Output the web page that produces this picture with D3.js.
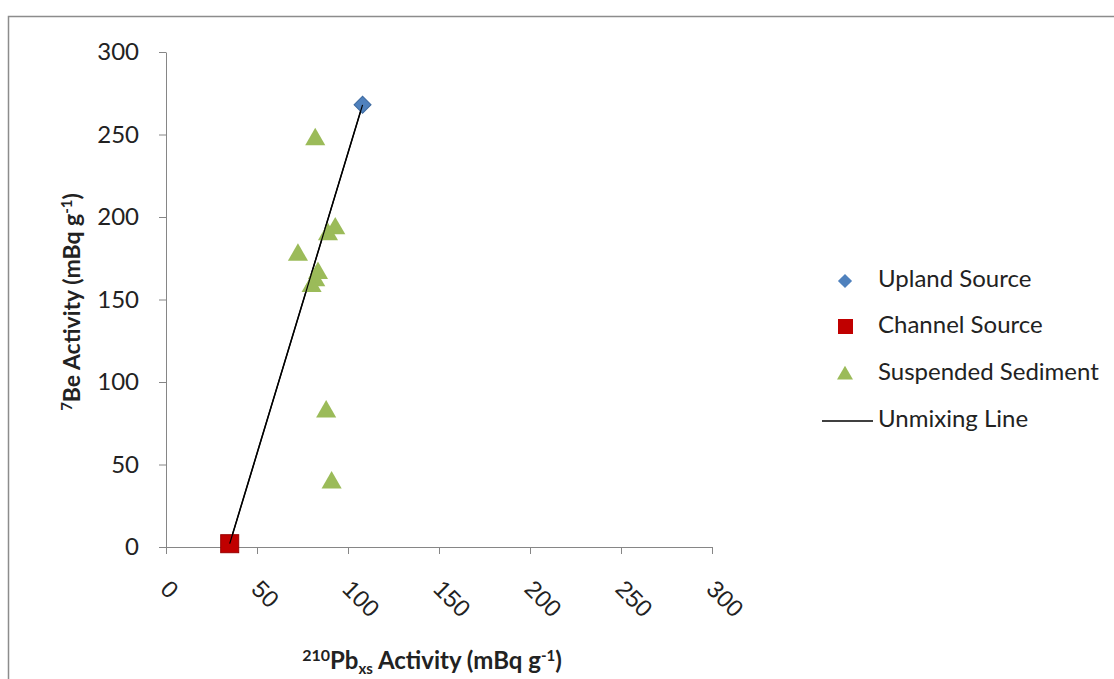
<!DOCTYPE html>
<html><head><meta charset="utf-8">
<script src="https://cdn.jsdelivr.net/npm/d3@7"></script>
<style>
html,body{margin:0;padding:0;background:#fff;}
svg{display:block;font-family:Lato,"Open Sans",sans-serif;}
</style></head>
<body>
<svg id="chart" width="1114" height="679"></svg>
<script>
// ---- data ----
const uplandX = [108];
const uplandY = [268];
const channelX = [35];
const channelY = [2];
const sedimentX = [82, 93, 89, 72.5, 83.5, 82, 80, 88, 91];
const sedimentY = [247, 193, 189.5, 177, 166, 161.5, 158, 82, 39];
const lineX = [35, 108];
const lineY = [2, 268];
const xTicks = [0, 50, 100, 150, 200, 250, 300];
const yTicks = [0, 50, 100, 150, 200, 250, 300];
const legendLabels = ["Upland Source", "Channel Source", "Suspended Sediment", "Unmixing Line"];

const svg = d3.select("#chart");
const W = 1114, H = 679;

// chart area border
svg.append("path").attr("d", `M8.5,${H} V16.5 H${W}`)
  .attr("fill","none").attr("stroke","#8c8c8c").attr("stroke-width",1.5);

const x = d3.scaleLinear().domain([0,300]).range([166,712]);
const y = d3.scaleLinear().domain([0,300]).range([547,52]);

// y axis
const yAx = svg.append("g").attr("transform","translate(166,0)")
  .call(d3.axisLeft(y).tickValues(yTicks).tickSize(7).tickSizeOuter(0).tickPadding(20));
yAx.select(".domain").attr("stroke","#868686");
yAx.selectAll(".tick line").attr("stroke","#868686");
yAx.selectAll("text").attr("font-size",24).attr("fill","#222").attr("font-family","Lato");

// x axis
const xAx = svg.append("g").attr("transform","translate(0,547)")
  .call(d3.axisBottom(x).tickValues(xTicks).tickSize(7).tickSizeOuter(0));
xAx.select(".domain").attr("stroke","#868686");
xAx.selectAll(".tick line").attr("stroke","#868686");
xAx.selectAll("text")
  .attr("font-size",24).attr("fill","#222")
  .attr("text-anchor","start").attr("dy",null).attr("y",null)
  .attr("transform","translate(-3,39) rotate(45)")
  .attr("dominant-baseline","middle");

// unmixing line
const lineData = lineX.map((v,i)=>({x:v,y:lineY[i]}));
svg.append("path").datum(lineData)
  .attr("d", d3.line().x(d=>x(d.x)).y(d=>y(d.y)))
  .attr("stroke","#000").attr("stroke-width",1.5).attr("fill","none");

// suspended sediment triangles
const sed = sedimentX.map((v,i)=>({x:v,y:sedimentY[i]}));
svg.append("g").selectAll("path").data(sed).join("path")
  .attr("transform", d=>`translate(${x(d.x)},${y(d.y)})`)
  .attr("d", d3.symbol(d3.symbolTriangle, 175)())
  .attr("fill","#9BBB59");

// channel source square
const ch = channelX.map((v,i)=>({x:v,y:channelY[i]}));
svg.append("g").selectAll("rect").data(ch).join("rect")
  .attr("x", d=>x(d.x)-9).attr("y", d=>y(d.y)-9)
  .attr("width",18).attr("height",18)
  .attr("fill","#C00000").attr("stroke","#9a0000").attr("stroke-width",1);

// upland diamond
const up = uplandX.map((v,i)=>({x:v,y:uplandY[i]}));
svg.append("g").selectAll("path").data(up).join("path")
  .attr("transform", d=>`translate(${x(d.x)},${y(d.y)}) rotate(45)`)
  .attr("d","M-6,-6H6V6H-6Z")
  .attr("fill","#4F81BD").attr("stroke","#3d6aa0").attr("stroke-width",1);

// line drawn on top of the endpoints (as in reference)
svg.append("path").datum(lineData)
  .attr("d", d3.line().x(d=>x(d.x)).y(d=>y(d.y)))
  .attr("stroke","#000").attr("stroke-width",1.2).attr("fill","none");

// axis titles
const xt = svg.append("text").attr("x",432).attr("y",669)
  .attr("text-anchor","middle").attr("font-size",24).attr("font-weight","bold").attr("fill","#222");
xt.append("tspan").text("210").attr("font-size",16).attr("dy",-8);
xt.append("tspan").text("Pb").attr("dy",8);
xt.append("tspan").text("xs").attr("font-size",15).attr("dy",5);
xt.append("tspan").text(" Activity (mBq g").attr("dy",-5);
xt.append("tspan").text("-1").attr("font-size",15).attr("dy",-8);
xt.append("tspan").text(")").attr("dy",8);

const yt = svg.append("text").attr("transform","translate(80,302) rotate(-90)")
  .attr("text-anchor","middle").attr("font-size",23).attr("font-weight","bold").attr("fill","#222");
yt.append("tspan").text("7").attr("font-size",15).attr("dy",-8);
yt.append("tspan").text("Be Activity (mBq g").attr("dy",8);
yt.append("tspan").text("-1").attr("font-size",15).attr("dy",-8);
yt.append("tspan").text(")").attr("dy",8);

// legend
const legY = [281, 327, 374, 421];
const lg = svg.append("g");
lg.append("path").attr("transform",`translate(845,${legY[0]}) rotate(45)`)
  .attr("d","M-5,-5H5V5H-5Z").attr("fill","#4F81BD");
lg.append("rect").attr("x",838).attr("y",legY[1]-8).attr("width",15).attr("height",15).attr("fill","#C00000");
lg.append("path").attr("transform",`translate(845,${legY[2]+1})`)
  .attr("d", d3.symbol(d3.symbolTriangle, 110)()).attr("fill","#9BBB59");
lg.append("line").attr("x1",822).attr("x2",873).attr("y1",legY[3]).attr("y2",legY[3])
  .attr("stroke","#000").attr("stroke-width",1.5);
lg.selectAll("text").data(legendLabels).join("text")
  .attr("x",878).attr("y",(d,i)=>legY[i])
  .attr("dominant-baseline","middle")
  .attr("font-size",24).attr("fill","#222").text(d=>d);
</script>
</body></html>
